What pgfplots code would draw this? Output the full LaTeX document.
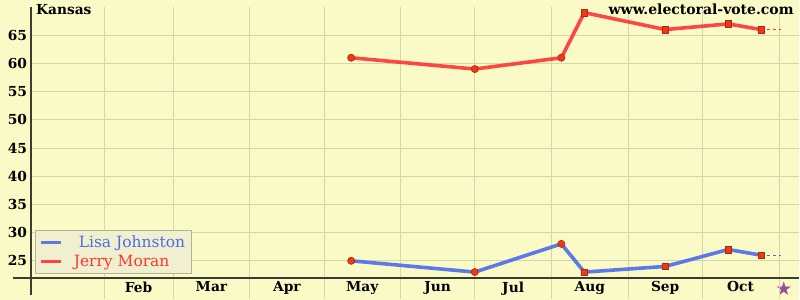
\documentclass[border=0pt]{standalone}
\usepackage{fontspec}
\setmainfont{DejaVu Serif}
\newfontfamily\symfont{DejaVu Sans}
\usepackage{pgfplots}
\pgfplotsset{compat=1.18}
\definecolor{bg}{HTML}{FAFAC6}
\definecolor{gridc}{HTML}{D6D6AE}
\definecolor{redl}{HTML}{FF3434}
\definecolor{bluel}{HTML}{4D6CEC}
\definecolor{mk}{HTML}{EE3A14}
\definecolor{mkedge}{HTML}{A82A10}
\definecolor{axc}{HTML}{3C3C30}
\definecolor{legfill}{HTML}{F0F0CE}
\definecolor{legdraw}{HTML}{B4B49A}
\definecolor{starc}{HTML}{9A4E9E}
\begin{document}
\begin{tikzpicture}
\fill[bg] (-31bp,-22bp) rectangle (769bp,278bp);
\begin{axis}[
  at={(0,0)}, anchor=south west,
  scale only axis, width=769bp, height=271bp,
  xmin=1.5, xmax=312.2, ymin=22, ymax=70,
  axis line style={draw=none},
  clip=false,
  ytick={25,30,35,40,45,50,55,60,65},
  xtick={45,74.5,105,135.5,166,196.5,227.5,258,288.5,306},
  xticklabels={Feb,Mar,Apr,May,Jun,Jul,Aug,Sep,Oct,{\symfont\color{starc}\fontsize{19bp}{19bp}\selectfont ★}},
  major tick length=0pt,
  ticklabel style={font=\fontsize{13.8bp}{15bp}\selectfont\bfseries},
  /pgf/number format/assume math mode=true,
  yticklabel style={xshift=-0.5bp},
  xticklabel style={yshift=-0.5bp},
  legend style={at={(4bp,4bp)}, anchor=south west, fill=legfill, draw=legdraw, line width=0.8bp,
    font=\fontsize{15.5bp}{18bp}\selectfont, row sep=2bp, inner xsep=4bp, inner ysep=3.5bp, legend cell align=left},
  legend image code/.code={\draw[line width=3.5bp,#1] (0bp,0bp) -- (20bp,0bp);},
]
% grid
\foreach \y in {25,30,...,65} {
  \edef\tmp{\noexpand\draw[gridc, line width=0.8bp] (axis cs:1.5,\y) -- (axis cs:312.2,\y);}
  \tmp
}
\foreach \d in {31,59,90,120,151,181,212,243,273,304} {
  \edef\tmp{\noexpand\draw[gridc, line width=0.8bp] (axis cs:\d,18.2) -- (axis cs:\d,70);}
  \tmp
}
\draw[axc, line width=1.6bp] (axis cs:1.5,70) -- (axis cs:1.5,18.9);
\draw[axc, line width=1.6bp] (axis cs:-5.8,22) -- (axis cs:312.2,22);

% Lisa Johnston
\addplot[bluel, line width=3.6bp, opacity=0.9] coordinates {(131,25) (181,23) (216,28) (225.3,23) (258,24) (283.5,27) (296.8,26)};
\addlegendentry{\hspace{14bp}\textcolor{bluel}{Lisa Johnston}}
% Jerry Moran
\addplot[redl, line width=3.6bp, opacity=0.9] coordinates {(131,61) (181,59) (216,61) (225.3,69) (258,66) (283.5,67) (296.8,66)};
\addlegendentry{\hspace{9bp}\textcolor{redl}{Jerry Moran}}

\addplot[bluel, dashed, line width=0.7bp, forget plot] coordinates {(296.8,26) (305,26)};
\addplot[redl, dashed, line width=0.7bp, forget plot] coordinates {(296.8,66) (305,66)};

\addplot[only marks, mark=*, mark size=3.6bp, mark options={fill=mk, draw=mkedge, line width=0.6bp}, forget plot]
  coordinates {(131,25) (181,23) (216,28) (131,61) (181,59) (216,61)};
\addplot[only marks, mark=square*, mark size=3.3bp, mark options={fill=mk, draw=mkedge, line width=0.5bp}, forget plot]
  coordinates {(225.3,23) (258,24) (283.5,27) (296.8,26) (225.3,69) (258,66) (283.5,67) (296.8,66)};

\node[anchor=north west, font=\fontsize{13.8bp}{15bp}\selectfont\bfseries, inner sep=0pt] at (axis cs:3.5,70.5) {Kansas};
\node[anchor=north east, font=\fontsize{14bp}{15bp}\selectfont\bfseries, inner sep=0pt] at (axis cs:310,70.5) {www.electoral-vote.com};
\end{axis}
\end{tikzpicture}
\end{document}
